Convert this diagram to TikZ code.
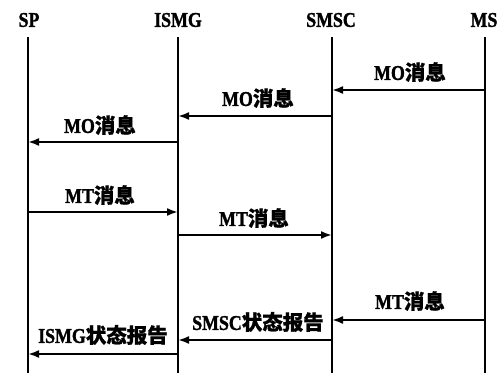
\documentclass[tikz,border=0pt]{standalone}
\usepackage{fontspec}
\setmainfont{Liberation Serif}
\newfontfamily\latn{Liberation Serif}[FakeStretch=0.85,BoldFeatures={FakeBold=1.5}]
\newfontfamily\cjk{Noto Sans CJK SC}[BoldFeatures={FakeBold=1}]
\usetikzlibrary{arrows.meta}
\tikzset{
  lifeline/.style={line width=2pt},
  msg/.style={line width=2pt,-{Latex[length=11pt,width=8pt]}},
  hdr/.style={font=\fontsize{21}{21}\latn\bfseries, inner sep=0pt},
  lbl/.style={font=\fontsize{21}{21}\latn\bfseries, inner sep=0pt},
}
\newcommand{\cj}[1]{{\fontsize{20.5}{20.5}\cjk\bfseries #1}}
\begin{document}
\begin{tikzpicture}[x=1pt,y=-1pt]
\useasboundingbox (0,0) rectangle (498,373);
% headers
\node[hdr] (hsp)   at (29,20)  {SP};
\node[hdr] (hismg) at (178,20) {ISMG};
\node[hdr] (hsmsc) at (331,20) {SMSC};
\node[hdr] (hms)   at (484,20) {MS};
% lifeline ends
\coordinate (sp0) at (28,37);   \coordinate (sp1) at (28,373);
\coordinate (is0) at (178,37);  \coordinate (is1) at (178,373);
\coordinate (sm0) at (332,37);  \coordinate (sm1) at (332,373);
\coordinate (ms0) at (485,37);  \coordinate (ms1) at (485,373);
\draw[lifeline] (sp0) -- (sp1);
\draw[lifeline] (is0) -- (is1);
\draw[lifeline] (sm0) -- (sm1);
\draw[lifeline] (ms0) -- (ms1);
% message endpoints
\foreach \n/\y in {1/90,2/116,3/142,4/212,5/235,6/320,7/340,8/354}{
  \coordinate (sp\n) at (28,\y);
  \coordinate (is\n) at (178,\y);
  \coordinate (sm\n) at (332,\y);
  \coordinate (ms\n) at (485,\y);
}
\draw[msg] (ms1) -- (sm1);
\draw[msg] (sm2) -- (is2);
\draw[msg] (is3) -- (sp3);
\draw[msg] (sp4) -- (is4);
\draw[msg] (is5) -- (sm5);
\draw[msg] (ms6) -- (sm6);
\draw[msg] (sm7) -- (is7);
\draw[msg] (is8) -- (sp8);
% labels
\node[lbl] (l1) at (410,72)  {MO\cj{消息}};
\node[lbl] (l2) at (258,98)  {MO\cj{消息}};
\node[lbl] (l3) at (100,125) {MO\cj{消息}};
\node[lbl] (l4) at (100,195) {MT\cj{消息}};
\node[lbl] (l5) at (254,218) {MT\cj{消息}};
\node[lbl] (l6) at (410,301) {MT\cj{消息}};
\node[lbl] (l7) at (258,322) {SMSC\cj{状态报告}};
\node[lbl] (l8) at (103,335) {ISMG\cj{状态报告}};
\end{tikzpicture}
\end{document}
